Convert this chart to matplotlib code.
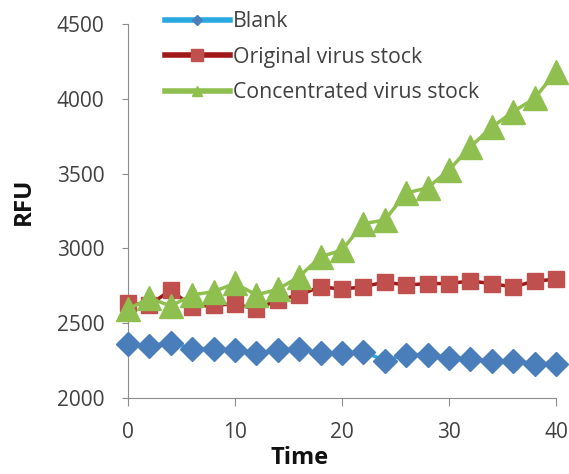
import matplotlib
matplotlib.use("Agg")
import matplotlib.pyplot as plt

time = [0, 2, 4, 6, 8, 10, 12, 14, 16, 18, 20, 22, 24, 26, 28, 30, 32, 34, 36, 38, 40]
blank = [2360, 2350, 2370, 2330, 2330, 2320, 2300, 2320, 2330, 2300, 2300, 2310,
         2250, 2290, 2290, 2270, 2260, 2250, 2250, 2230, 2230]
original = [2637, 2621, 2722, 2610, 2621, 2628, 2594, 2655, 2689, 2744, 2727, 2744,
            2775, 2755, 2765, 2765, 2782, 2765, 2742, 2782, 2793]
concentrated = [2594, 2668, 2615, 2689, 2711, 2766, 2689, 2727, 2811, 2944, 2989, 3165,
                3190, 3370, 3405, 3524, 3680, 3810, 3914, 4003, 4182]
xticks = [0, 10, 20, 30, 40]
yticks = [2000, 2500, 3000, 3500, 4000, 4500]

plt.rcParams['font.family'] = ['Open Sans', 'DejaVu Sans']
fig = plt.figure(figsize=(5.69, 4.74), dpi=100)
ax = fig.add_axes([128/569, 1-398/474, 428/569, 374/474])

l1, = ax.plot(time, blank, color='#2aa8e0', lw=2.5, marker='D', markersize=12.5,
              markerfacecolor='#4a7ebb', markeredgecolor='#4a7ebb', mew=1, clip_on=False,
              label='Blank', zorder=3)
l2, = ax.plot(time, original, color='#a01818', lw=2.5, marker='s', markersize=11,
              markerfacecolor='#c0504d', markeredgecolor='#c0504d', mew=1, clip_on=False,
              label='Original virus stock', zorder=3)
l3, = ax.plot(time, concentrated, color='#8fc04f', lw=2.5, marker='^', markersize=17,
              markerfacecolor='#8fc04f', markeredgecolor='#8fc04f', mew=1, clip_on=False,
              label='Concentrated virus stock', zorder=4)

ax.set_xlim(0, 40)
ax.set_ylim(2000, 4500)
ax.set_xticks(xticks)
ax.set_yticks(yticks)
for s in ['top', 'right']:
    ax.spines[s].set_visible(False)
for s in ['left', 'bottom']:
    ax.spines[s].set_color('#8c8c8c')
ax.tick_params(axis='both', colors='#8c8c8c', labelcolor='#404040', labelsize=15,
               direction='out')
ax.tick_params(axis='y', length=4, pad=13)
ax.tick_params(axis='x', length=6, pad=11)
ax.set_xlabel('Time', fontsize=17, fontweight='bold', color='#111111')
ax.set_ylabel('RFU', fontsize=17.5, fontweight='bold', color='#111111')
ax.xaxis.set_label_coords(0.402, -0.128)
ax.yaxis.set_label_coords(-0.215, 0.527)

leg = ax.legend(loc='upper left', bbox_to_anchor=(165/569, 1-11/474),
                bbox_transform=fig.transFigure, frameon=False, borderpad=0,
                borderaxespad=0, fontsize=15.3, handlelength=3.05, handletextpad=0.15,
                labelspacing=0.69)
for t in leg.get_texts():
    t.set_color('#404040')
hs = leg.legend_handles
sizes = [5.5, 9, 7]
for h, s in zip(hs, sizes):
    h.set_linewidth(4)
    h.set_markersize(s)

fig.savefig('out.png', dpi=100)
